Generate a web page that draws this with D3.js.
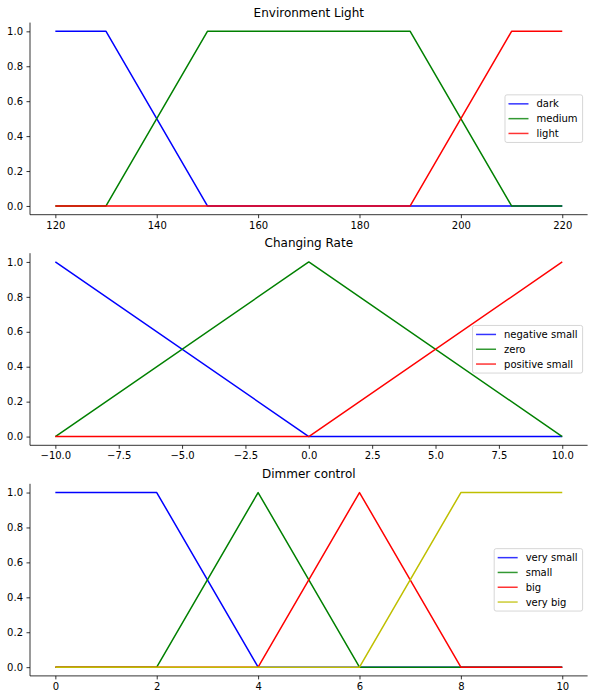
<!DOCTYPE html>
<html>
<head>
<meta charset="utf-8">
<script src="https://cdn.jsdelivr.net/npm/d3@7"></script>
<style>
  body { margin: 0; background: #fff; }
  svg { display: block; font-family: "DejaVu Sans", sans-serif; }
</style>
</head>
<body>
<div id="chart"></div>
<script>
// membership function breakpoints: [x, degree]
const envTitle = "Environment Light"
const envTicks = [120, 140, 160, 180, 200, 220]
const envNames = ["dark", "medium", "light"]
const envDark = [[120, 1], [130, 1], [150, 0], [220, 0]]
const envMedium = [[120, 0], [130, 0], [150, 1], [190, 1], [210, 0], [220, 0]]
const envLight = [[120, 0], [190, 0], [210, 1], [220, 1]]

const rateTitle = "Changing Rate"
const rateTicks = [-10, -7.5, -5, -2.5, 0, 2.5, 5, 7.5, 10]
const rateNames = ["negative small", "zero", "positive small"]
const rateNeg = [[-10, 1], [0, 0], [10, 0]]
const rateZero = [[-10, 0], [0, 1], [10, 0]]
const ratePos = [[-10, 0], [0, 0], [10, 1]]

const dimTitle = "Dimmer control"
const dimTicks = [0, 2, 4, 6, 8, 10]
const dimNames = ["very small", "small", "big", "very big"]
const dimVerySmall = [[0, 1], [2, 1], [4, 0], [10, 0]]
const dimSmall = [[0, 0], [2, 0], [4, 1], [6, 0], [10, 0]]
const dimBig = [[0, 0], [4, 0], [6, 1], [8, 0], [10, 0]]
const dimVeryBig = [[0, 0], [6, 0], [8, 1], [10, 1]]

const yTicks = [0, 0.2, 0.4, 0.6, 0.8, 1.0]

//screen setting (fixed)
const W = 595, H = 699
const axLeft = 30, axRight = 587.6
const axHeight = 192.1
const axTops = [22.6, 253.2, 483.8]
const colors = ["#0000ff", "#008000", "#ff0000", "#bfbf00"]

const svg = d3.select("#chart").append("svg").attr("width", W).attr("height", H)
svg.append("rect").attr("width", W).attr("height", H).attr("fill", "#fff")

function translate(x, y) { return `translate(${x}, ${y})` }

const panels = [
  { title: envTitle, ticks: envTicks, names: envNames, series: [envDark, envMedium, envLight], fmt: d3.format("d") },
  { title: rateTitle, ticks: rateTicks, names: rateNames, series: [rateNeg, rateZero, ratePos], fmt: d3.format(".1f") },
  { title: dimTitle, ticks: dimTicks, names: dimNames, series: [dimVerySmall, dimSmall, dimBig, dimVeryBig], fmt: d3.format("d") }
]

panels.forEach(function(p, i) {
  const top = axTops[i]
  const xmin = d3.min(p.ticks), xmax = d3.max(p.ticks)
  const pad = (xmax - xmin) * 0.05
  const x = d3.scaleLinear().domain([xmin - pad, xmax + pad]).range([axLeft, axRight])
  const y = d3.scaleLinear().domain([-0.05, 1.05]).range([top + axHeight, top])

  const g = svg.append("g")

  // lines
  const line = d3.line().x(d => x(d[0])).y(d => y(d[1]))
  p.series.forEach(function(s, k) {
    g.append("path").datum(s)
      .attr("d", line)
      .attr("fill", "none")
      .attr("stroke", colors[k])
      .attr("stroke-width", 1.5)
      .attr("stroke-linejoin", "round")
  })

  // axes, only left and bottom spines
  const xAxis = d3.axisBottom(x).tickValues(p.ticks).tickFormat(p.fmt).tickSizeInner(3.5).tickSizeOuter(0).tickPadding(3.5)
  const yAxis = d3.axisLeft(y).tickValues(yTicks).tickFormat(d3.format(".1f")).tickSizeInner(3.5).tickSizeOuter(0).tickPadding(3.5)
  const gx = g.append("g").attr("transform", translate(0, top + axHeight)).call(xAxis)
  const gy = g.append("g").attr("transform", translate(axLeft, 0)).call(yAxis)
  ;[gx, gy].forEach(a => {
    a.selectAll("path.domain").attr("stroke", "#000").attr("stroke-width", 0.8)
    a.selectAll(".tick line").attr("stroke", "#000").attr("stroke-width", 0.8)
    a.selectAll(".tick text").attr("fill", "#000").attr("font-size", 10).attr("font-family", "DejaVu Sans")
  })
  gx.select("path.domain").attr("d", `M${axLeft},0H${axRight}`)
  gy.select("path.domain").attr("d", `M0,${top + axHeight}V${top}`)

  // title
  g.append("text")
    .attr("x", (axLeft + axRight) / 2).attr("y", top - 6)
    .attr("text-anchor", "middle").attr("font-size", 12).attr("fill", "#000")
    .text(p.title)

  // legend, center right
  const leg = g.append("g")
  const frame = leg.append("rect")
  const labels = p.names.map((n, k) => leg.append("text").attr("font-size", 10).attr("fill", "#000").text(n))
  const textW = d3.max(labels, t => t.node().getComputedTextLength())
  const rowGap = 14.8
  const legW = 4 + 20 + 8 + textW + 4.5
  const legH = 18 + (p.names.length - 1) * rowGap
  const legX = axRight - 5 - legW
  const legY = top + axHeight / 2 - legH / 2
  frame.attr("x", legX).attr("y", legY).attr("width", legW).attr("height", legH)
    .attr("rx", 2).attr("fill", "#fff").attr("fill-opacity", 0.8)
    .attr("stroke", "#cccccc").attr("stroke-width", 0.8)
  p.names.forEach(function(n, k) {
    const cy = legY + 9 + k * rowGap
    leg.append("line")
      .attr("x1", legX + 3.5).attr("x2", legX + 23.5)
      .attr("y1", cy).attr("y2", cy)
      .attr("stroke", colors[k]).attr("stroke-width", 1.5).attr("stroke-opacity", 0.8)
    labels[k].attr("x", legX + 31.5).attr("y", cy).attr("dy", "0.35em")
  })
})
</script>
</body>
</html>
